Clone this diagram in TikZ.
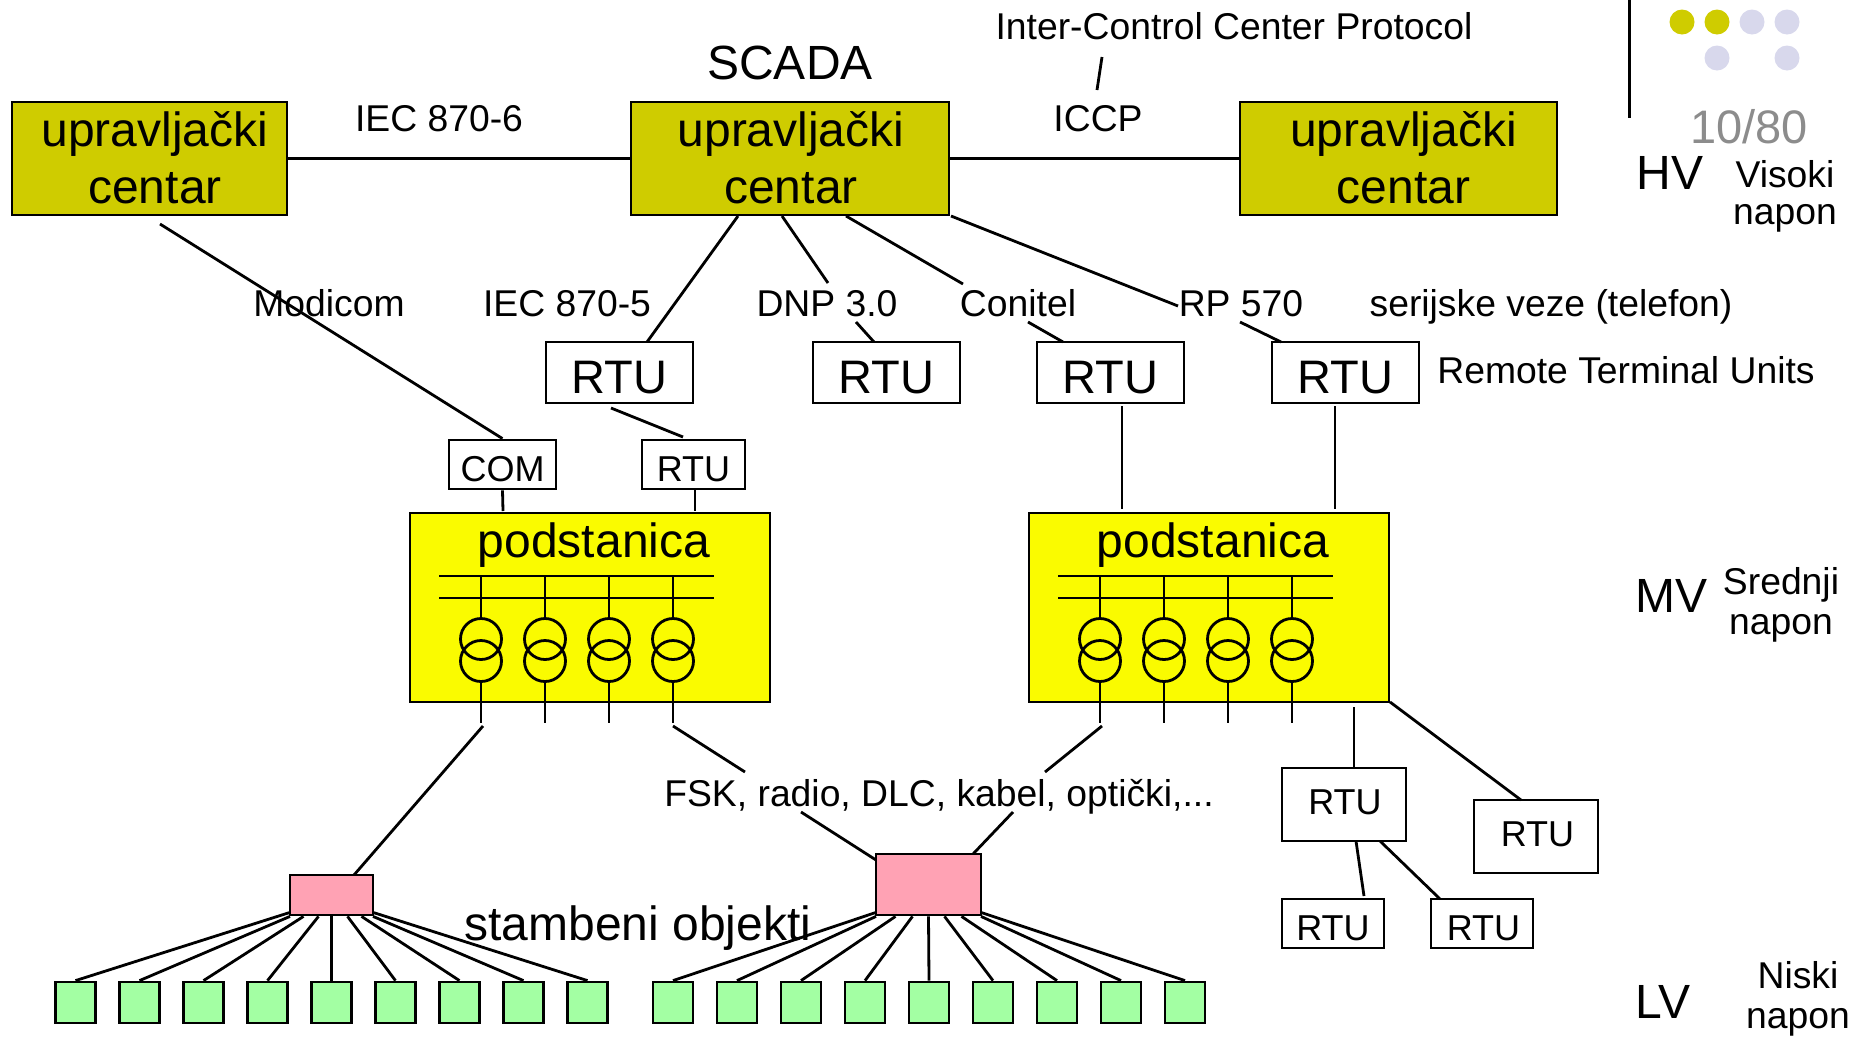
\documentclass[tikz,border=0pt]{standalone}
\usepackage{fontspec}
\setmainfont{Liberation Sans}
\usetikzlibrary{calc}
\definecolor{ctrlolive}{HTML}{CFCC00}
\definecolor{podyellow}{HTML}{FAFB00}
\definecolor{feederpink}{HTML}{FFA2B4}
\definecolor{housegreen}{HTML}{A3FFA3}
\definecolor{dotlilac}{HTML}{D8D8EC}
\definecolor{pagegrey}{HTML}{8C8C8C}
\tikzset{
  wire/.style={line width=2.8pt},
  bigfont/.style={font=\fontsize{48}{57.5}\selectfont},
  midfont/.style={font=\fontsize{37.3}{40}\selectfont},
  ctrlbox/.style={draw,wire,fill=ctrlolive,inner sep=0pt,align=center,bigfont,text depth=2.4pt},
  rtubig/.style={draw,wire,inner sep=0pt,minimum width=147pt,minimum height=61pt,
    font=\fontsize{47}{47}\selectfont,text height=41pt,text depth=0pt},
  rtumid/.style={draw,wire,inner sep=0pt,font=\fontsize{36}{36}\selectfont,text height=34pt,text depth=0pt},
  rtulow/.style={rtumid,minimum width=124pt,minimum height=73pt,text height=19pt},
  podbox/.style={draw,wire,fill=podyellow,inner sep=0pt,minimum width=360pt,minimum height=189pt},
  pinkbox/.style={draw,wire,fill=feederpink,inner sep=0pt},
  housebox/.style={draw,wire,fill=housegreen,inner sep=0pt,minimum width=40pt,minimum height=41pt},
  lbl/.style={midfont,inner sep=0pt,text height=33pt,text depth=7pt},
}
\begin{document}
\begin{tikzpicture}[x=1pt,y=-1pt]
\useasboundingbox (0,0) rectangle (1869,1037);

% Corner of the slide
\draw[line width=3pt] (1629,0) -- (1629,118);
\foreach \x in {1682,1717} \fill[ctrlolive] (\x,22) circle (12.5);
\foreach \x/\y in {1752/22,1787/22,1717/58,1787/58} \fill[dotlilac] (\x,\y) circle (12.5);
\node[font=\fontsize{47}{47}\selectfont,text=pagegrey,inner sep=0pt] (pagenr) at (1749,127) {10/80};

% Control centers
\node[ctrlbox,minimum width=275pt,minimum height=113pt] (ctrlleft) at (149.5,158.5) {\hspace*{11pt}upravljački\\\hspace*{11pt}centar};
\node[ctrlbox,minimum width=318pt,minimum height=113pt] (ctrlmain) at (790,158.5) {\hspace*{2pt}upravljački\\\hspace*{2pt}centar};
\node[ctrlbox,minimum width=317pt,minimum height=113pt] (ctrlright) at (1398.5,158.5) {\hspace*{10pt}upravljački\\\hspace*{10pt}centar};
\draw[wire] (ctrlleft) -- (ctrlmain);
\draw[wire] (ctrlmain) -- (ctrlright);

\node[bigfont,inner sep=0pt] (scada) at (790,63) {SCADA};
\node[lbl] (icp) at (1234,26) {Inter-Control Center Protocol};
\node[lbl] (iccp) at (1098,118) {ICCP};
\node[lbl] (iecsix) at (439,118) {IEC 870-6};
\coordinate (icpa) at (1102,57);
\coordinate (icpb) at (1097,90);
\draw[wire] (icpa) -- (icpb);

% Field labels
\node[lbl] (modicom) at (329,303) {Modicom};
\node[lbl] (iecfive) at (567,303) {IEC 870-5};
\node[lbl] (dnp) at (827,303) {DNP 3.0};
\node[lbl] (conitel) at (1018,303) {Conitel};
\node[lbl] (rpsev) at (1241,303) {RP 570};
\node[lbl] (serial) at (1551,303) {serijske veze (telefon)};
\node[lbl] (remote) at (1626,370) {Remote Terminal Units};

% Remote units
\node[rtubig] (rtua) at (619.5,372.5) {RTU};
\node[rtubig] (rtub) at (886.5,372.5) {RTU};
\node[rtubig] (rtuc) at (1110.5,372.5) {RTU};
\node[rtubig] (rtud) at (1345.5,372.5) {RTU};
\node[rtumid,minimum width=107pt,minimum height=49pt] (com) at (502.5,464.5) {COM};
\node[rtumid,minimum width=103pt,minimum height=49pt] (rtusub) at (693.5,464.5) {RTU};

% Substations
\foreach \s/\dx in {a/0,b/619} {
  \begin{scope}[xshift=\dx]
    \node[podbox] (pod\s) at (590,607.5) {};
    \node[bigfont,inner sep=0pt] (podname\s) at (594,545) {podstanica};
    \draw[wire] (439,576) -- (714,576);
    \draw[wire] (439,598) -- (714,598);
    \foreach \x in {481,545,609,673} {
      \draw[wire] (\x,576) -- (\x,617);
      \draw[wire] (\x,639) circle (20.5);
      \draw[wire] (\x,661) circle (20.5);
      \draw[wire] (\x,683) -- (\x,723);
    }
  \end{scope}
}

% Lines from the control centers to the units
\coordinate (modfrom) at (160,224);
\coordinate (iecfrom) at (738,216);
\coordinate (dnpfrom) at (782,216);
\coordinate (dnpgapa) at (828,283);
\coordinate (dnpgapb) at (856,322);
\coordinate (dnpto) at (874,342);
\coordinate (confrom) at (846,216);
\coordinate (congapa) at (963,284);
\coordinate (congapb) at (1028,322);
\coordinate (conto) at (1063,342);
\coordinate (rpfrom) at (951,216);
\coordinate (rpgapa) at (1178,306);
\coordinate (rpgapb) at (1240,322);
\coordinate (rpto) at (1281,342);
\coordinate (ieclto) at (647,342);
\coordinate (subfrom) at (611,408);
\coordinate (subto) at (683,437);
\draw[wire] (modfrom) -- (com.north);
\draw[wire] (iecfrom) -- (ieclto);
\draw[wire] (dnpfrom) -- (dnpgapa) (dnpgapb) -- (dnpto);
\draw[wire] (confrom) -- (congapa) (congapb) -- (conto);
\draw[wire] (rpfrom) -- (rpgapa) (rpgapb) -- (rpto);
\draw[wire] (subfrom) -- (subto);

% Units down to the substations
\coordinate (comto) at (503,511);
\coordinate (subdown) at (695,511);
\coordinate (cfrom) at (1122,406);
\coordinate (cto) at (1122,509);
\coordinate (dfrom) at (1335,406);
\coordinate (dto) at (1335,509);
\draw[wire] (com.south) -- (comto);
\draw[wire] (subdown |- rtusub.south) -- (subdown);
\draw[wire] (cfrom) -- (cto);
\draw[wire] (dfrom) -- (dto);

% Units at the right
\node[rtulow] (rtue) at (1344,804.5) {\hspace*{2pt}RTU};
\node[rtulow] (rtuf) at (1536,836.5) {\hspace*{3pt}RTU};
\node[rtumid,minimum width=102pt,minimum height=49pt] (rtug) at (1333,923.5) {RTU};
\node[rtumid,minimum width=102pt,minimum height=49pt] (rtuh) at (1482,923.5) {\hspace*{3pt}RTU};
\coordinate (efrom) at (1354,707);
\coordinate (ffrom) at (1390,702);
\coordinate (fto) at (1521,800);
\coordinate (gfrom) at (1356,841);
\coordinate (gto) at (1364,896);
\coordinate (hfrom) at (1380,841);
\coordinate (hto) at (1440,899);
\draw[wire] (efrom) -- (efrom |- rtue.north);
\draw[wire] (ffrom) -- (fto);
\draw[wire] (gfrom) -- (gto);
\draw[wire] (hfrom) -- (hto);

% Houses
\node[pinkbox,minimum width=83pt,minimum height=40pt] (pinka) at (331.5,895) {};
\node[pinkbox,minimum width=105pt,minimum height=61pt] (pinkb) at (928.5,884.5) {};
\foreach \i in {1,...,9} {
  \node[housebox] (housea\i) at ({75.5+64*(\i-1)},1002.5) {};
  \node[housebox] (houseb\i) at ({673+64*(\i-1)},1002.5) {};
}
\foreach \i/\dx/\dy in {1/-41.5/-4,2/-41.5/0,3/-28/0,4/-13/0,5/0/0,6/16/0,7/30/0,8/41.5/0,9/41.5/-4}
  \draw[wire] ($(pinka.south)+(\dx,\dy)$) -- (housea\i.north);
\foreach \i/\dx/\dy in {1/-52.5/-4,2/-52.5/0,3/-33/0,4/-16/0,5/0/0,6/16/0,7/33/0,8/52.5/0,9/52.5/-4}
  \draw[wire] ($(pinkb.south)+(\dx,\dy)$) -- (houseb\i.north);

% Lines to the feeders
\node[lbl] (fsk) at (939,793) {FSK, radio, DLC, kabel, optički,...};
\coordinate (fromone) at (483,726);
\coordinate (toone) at (354,875);
\coordinate (fromtwo) at (673,726);
\coordinate (gaptwoa) at (745,772);
\coordinate (gaptwob) at (801,812);
\coordinate (totwo) at (876,860);
\coordinate (fromthree) at (1102,726);
\coordinate (gapthreea) at (1045,772);
\coordinate (gapthreeb) at (1013,812);
\coordinate (tothree) at (973,854);
\draw[wire] (fromone) -- (toone);
\draw[wire] (fromtwo) -- (gaptwoa) (gaptwob) -- (totwo);
\draw[wire] (fromthree) -- (gapthreea) (gapthreeb) -- (tothree);

\node[bigfont,inner sep=0pt] (stambeni) at (638,928) {stambeni objekti};

% Voltage levels
\node[bigfont,inner sep=0pt] (hv) at (1670,173) {HV};
\node[midfont,inner sep=0pt,align=center] (visoki) at (1785,196) {Visoki\\[-3pt]napon};
\node[bigfont,inner sep=0pt] (mv) at (1671,596) {MV};
\node[midfont,inner sep=0pt,align=center] (srednji) at (1781,605) {Srednji\\napon};
\node[bigfont,inner sep=0pt] (lv) at (1663,1002) {LV};
\node[midfont,inner sep=0pt,align=center] (niski) at (1798,999) {Niski\\napon};
\end{tikzpicture}
\end{document}
